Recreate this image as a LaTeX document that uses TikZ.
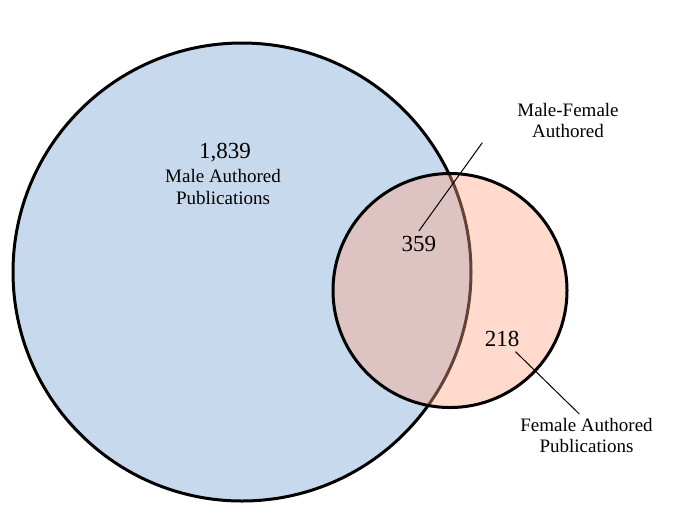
\documentclass[tikz,border=0pt]{standalone}
\usepackage{fontspec}
\setmainfont{Liberation Serif}
\definecolor{maleblue}{RGB}{199,217,236}
\definecolor{femalepink}{RGB}{255,163,130}
\tikzset{
  count/.style={font=\fontsize{11.5}{13}\selectfont, inner sep=2.5pt, anchor=base},
  lbl/.style={font=\fontsize{9.5}{10.75}\selectfont, align=center, inner sep=0pt},
  leader/.style={line width=0.5pt},
  rim/.style={line width=1.5pt}
}
\begin{document}
\begin{tikzpicture}[x=0.5pt, y=-0.5pt]
    \useasboundingbox (0,0) rectangle (685,516);

    % the two sets
    \draw[rim, fill=maleblue] (242,272) circle[radius=114.5pt];
    \fill[femalepink, opacity=0.4] (450,290.5) circle[radius=58.5pt];
    \draw[rim] (450,290.5) circle[radius=58.5pt];

    \node[count] (nMale) at (225,158.3) {1,839};
    \node[lbl] (lMale) at (223,187.2) {Male Authored\\Publications};
    \node[count] (nBoth) at (418.8,251.7) {359};
    \node[count] (nFemale) at (502,346) {218};
    \node[lbl] (lBoth) at (568,120.3) {Male-Female\\Authored};
    \node[lbl] (lFemale) at (586.5,435.5) {Female Authored\\Publications};

    \coordinate (cBoth) at (482.3,142.7);
    \coordinate (cFemale) at (579.3,414);
    \draw[leader] (nBoth.north) -- (cBoth);
    \draw[leader] (nFemale) -- (cFemale);
\end{tikzpicture}
\end{document}
